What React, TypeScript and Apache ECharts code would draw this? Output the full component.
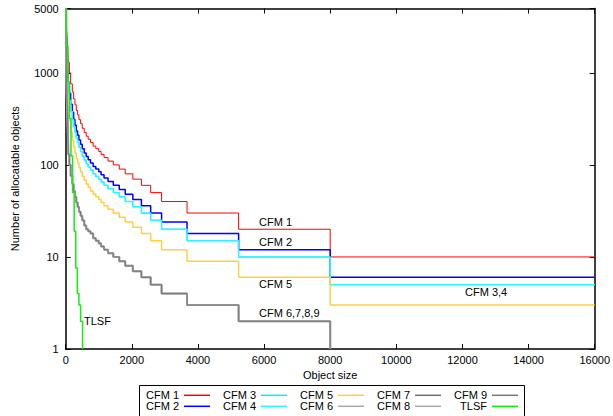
import React, { useEffect, useRef } from 'react';
import * as echarts from 'echarts';

// Object size class upper bounds (shared by the CFM curves)
const sizes = [16, 32, 48, 64, 80, 112, 150, 200, 240, 280, 320, 360, 400, 450, 500, 560, 620, 680, 750, 830, 910, 1000, 1070, 1160, 1280, 1440, 1620, 1800, 2030, 2290, 2570, 2900, 3670, 5230, 8000, 16000];

const cfm1 = [5000, 3600, 2800, 2200, 1800, 1300, 1000, 760, 620, 520, 450, 390, 350, 310, 280, 250, 225, 205, 190, 175, 160, 150, 140, 130, 120, 110, 100, 90, 80, 70, 60, 50, 40, 30, 20, 10];
const cfm2 = [5000, 3000, 2000, 1400, 1080, 780, 600, 456, 372, 312, 270, 234, 210, 186, 168, 150, 135, 123, 114, 105, 96, 90, 84, 78, 72, 66, 60, 54, 48, 42, 36, 30, 24, 18, 12, 6];
const cfm34 = [5000, 2600, 1700, 1200, 900, 650, 500, 380, 310, 260, 225, 195, 175, 155, 140, 125, 113, 103, 95, 88, 80, 75, 70, 65, 60, 55, 50, 45, 40, 35, 30, 25, 20, 15, 10, 5];
const cfm5 = [5000, 1800, 1000, 700, 540, 390, 300, 228, 186, 156, 135, 117, 105, 93, 84, 75, 68, 62, 57, 52, 48, 45, 42, 39, 36, 33, 30, 27, 24, 21, 18, 15, 12, 9, 6, 3];

// CFM 6..9 end at 8000 (drop to the bottom)
const graySizes = [16, 32, 48, 64, 80, 112, 150, 200, 240, 280, 320, 360, 400, 450, 500, 560, 620, 680, 750, 830, 910, 1000, 1070, 1160, 1280, 1440, 1620, 1800, 2030, 2290, 2570, 2900, 3670, 5230, 8000, 8000];
const cfm6789 = [5000, 1200, 600, 380, 250, 130, 100, 76, 62, 52, 45, 39, 35, 31, 28, 25, 22, 20, 19, 18, 16, 15, 14, 13, 12, 11, 10, 9, 8, 7, 6, 5, 4, 3, 2, 1];

const tlsfSizes = [16, 64, 112, 160, 208, 256, 304, 352, 400, 450, 510, 510];
const tlsf = [5000, 2000, 800, 320, 125, 50, 19, 7.6, 4, 3, 2, 1];

const legendCols = [
  ['CFM 1', 'CFM 2'],
  ['CFM 3', 'CFM 4'],
  ['CFM 5', 'CFM 6'],
  ['CFM 7', 'CFM 8'],
  ['CFM 9', 'TLSF'],
];
const legendLeft = [146, 223, 300, 377, 454];

const plotLabels = [
  { text: 'CFM 1', x: 259, y: 221.7 },
  { text: 'CFM 2', x: 259, y: 241.7 },
  { text: 'CFM 5', x: 259, y: 284.3 },
  { text: 'CFM 6,7,8,9', x: 259, y: 312.7 },
  { text: 'CFM 3,4', x: 465, y: 292 },
  { text: 'TLSF', x: 84, y: 321 },
];

const font = "'Liberation Sans', Arial, Helvetica, sans-serif";

const zip = (xs: number[], ys: number[]) => xs.map((x, i) => [x, ys[i]]);

const seriesDefs = [
  { name: 'CFM 1', xs: sizes, ys: cfm1, color: '#ff0000', width: 1 },
  { name: 'CFM 2', xs: sizes, ys: cfm2, color: '#0000ff', width: 1.5 },
  { name: 'CFM 3', xs: sizes, ys: cfm34, color: '#00f0ff', width: 1 },
  { name: 'CFM 4', xs: sizes, ys: cfm34, color: '#30f4ff', width: 1.5 },
  { name: 'CFM 5', xs: sizes, ys: cfm5, color: '#ffd040', width: 1.5 },
  { name: 'CFM 6', xs: graySizes, ys: cfm6789, color: '#a8a8a8', width: 2 },
  { name: 'CFM 7', xs: graySizes, ys: cfm6789, color: '#707070', width: 1 },
  { name: 'CFM 8', xs: graySizes, ys: cfm6789, color: '#a8a8a8', width: 2 },
  { name: 'CFM 9', xs: graySizes, ys: cfm6789, color: '#787878', width: 1 },
  { name: 'TLSF', xs: tlsfSizes, ys: tlsf, color: '#11ee11', width: 1.5 },
];

const axisLine = { show: true, onZero: false, lineStyle: { color: '#000', width: 1.5 } };
const axisTick = { show: true, inside: true, length: 5, lineStyle: { color: '#000', width: 1 } };
const numFmt = (v: number) => String(Math.round(v));

export default function App() {
  const ref = useRef<HTMLDivElement>(null);
  useEffect(() => {
    if (!ref.current) return;
    const chart = echarts.init(ref.current, undefined, { renderer: 'svg' });
    const option: any = {
      animation: false,
      backgroundColor: '#fff',
      textStyle: { fontFamily: font },
      grid: { left: 65.7, right: 14.1, top: 8.5, bottom: 67 },
      xAxis: [
        {
          type: 'value', min: 0, max: 16000, interval: 2000, position: 'bottom',
          name: 'Object size', nameLocation: 'middle', nameGap: 20.5,
          nameTextStyle: { fontSize: 11, color: '#000', fontFamily: font },
          axisLine, axisTick,
          axisLabel: { fontSize: 11, color: '#000', margin: 5, fontFamily: font, formatter: numFmt },
          splitLine: { show: false },
        },
        {
          type: 'value', min: 0, max: 16000, interval: 2000, position: 'top',
          axisLine, axisTick, axisLabel: { show: false }, splitLine: { show: false },
        },
      ],
      yAxis: [
        {
          type: 'log', logBase: 10, min: 1, max: 5000, position: 'left',
          name: 'Number of allocatable objects', nameLocation: 'middle', nameGap: 45, nameRotate: 90,
          nameTextStyle: { fontSize: 11, color: '#000', fontFamily: font },
          axisLine, axisTick,
          axisLabel: { fontSize: 11, color: '#000', margin: 7, fontFamily: font, formatter: numFmt },
          splitLine: { show: false }, minorTick: { show: false },
        },
        {
          type: 'log', logBase: 10, min: 1, max: 5000, position: 'right',
          axisLine, axisTick, axisLabel: { show: false }, splitLine: { show: false },
        },
      ],
      legend: legendCols.map((d, i) => ({
        data: d, orient: 'vertical', align: 'right', left: legendLeft[i], top: 389.8,
        padding: 0, itemGap: 0, itemWidth: 26, itemHeight: 1.5, icon: 'rect', selectedMode: false,
        textStyle: { fontSize: 11, lineHeight: 11, color: '#000', fontFamily: font },
      })),
      graphic: [
        {
          type: 'rect', shape: { x: 139.5, y: 385.5, width: 385, height: 40 },
          style: { fill: 'none', stroke: '#000', lineWidth: 1 }, silent: true,
        },
        ...plotLabels.map((l) => ({
          type: 'text', x: l.x, y: l.y, silent: true,
          style: { text: l.text, fontSize: 11, fontFamily: font, fill: '#000', align: 'left', verticalAlign: 'middle' },
        })),
      ],
      series: seriesDefs.map((s) => ({
        name: s.name, type: 'line', step: 'start', symbol: 'none', showSymbol: false,
        xAxisIndex: 0, yAxisIndex: 0, clip: true, silent: true,
        data: zip(s.xs, s.ys),
        lineStyle: { color: s.color, width: s.width },
        itemStyle: { color: s.color },
        emphasis: { disabled: true },
      })),
    };
    chart.setOption(option);
    return () => chart.dispose();
  }, []);
  return <div ref={ref} style={{ position: 'fixed', left: 0, top: 0, width: 613, height: 416 }} />;
}
